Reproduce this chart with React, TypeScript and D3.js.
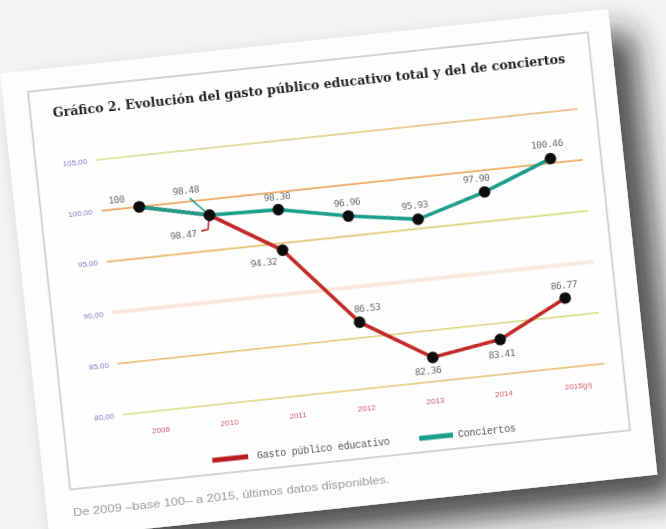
import React from "react";
import * as d3 from "d3";

const years = ["2009", "2010", "2011", "2012", "2013", "2014", "2015(p)"];
const gastoTotal = [100, 98.47, 94.32, 86.53, 82.36, 83.41, 86.77];
const conciertos = [100, 98.48, 98.3, 96.96, 95.93, 97.9, 100.46];
const yTicks = [80, 85, 90, 95, 100, 105];
const seriesNames = ["Gasto público educativo", "Conciertos"];
const title = "Gráfico 2. Evolución del gasto público educativo total y del de conciertos";
const footnote = "De 2009 –base 100– a 2015, últimos datos disponibles.";

// label layout (offsets from the point), kept apart from the data
const redLabelOffsets = [[-22, -10], [-28, 17], [-20, 10], [9, -14], [-6, 13], [0, 14], [0, -13]];
const greenLabelOffsets = [null, [-21, -27], [0, -13], [0, -14], [-2, -14], [-7, -14], [-2, -15]];
const gridColors: [string, string, number, number][] = [
  ["#d6e07e", "#f2b266", 1.6, 1], // 80
  ["#f0b466", "#d4e07c", 1.6, 1], // 85
  ["#f6d2bc", "#f6d8c6", 4, 0.55], // 90
  ["#f0b064", "#d2de7a", 1.6, 1], // 95
  ["#f0a65e", "#f0ac62", 1.8, 1], // 100
  ["#cfe08a", "#f2b06a", 1.6, 1], // 105
];

const RED = "#c22a26";
const TEAL = "#1f9e8c";

export default function App() {
  const W = 666, H = 529;
  const x = d3.scalePoint<string>().domain(years).range([146, 560]);
  const y = d3.scaleLinear().domain([80, 105]).range([392, 136]);
  const line = d3.line<number>().x((_, i) => x(years[i]) as number).y((v) => y(v));
  const fmtAxis = (v: number) => v.toFixed(2).replace(".", ",");
  const fmtLabel = (v: number) => (Number.isInteger(v) ? String(v) : v.toFixed(2));
  const gridX0 = 108, gridX1 = 592;

  return (
    <svg width={W} height={H} style={{ position: "absolute", left: 0, top: 0, background: "#f5f5f5" }}>
      <defs>
        <filter id="shadow" x="-20%" y="-20%" width="150%" height="150%">
          <feDropShadow dx="22" dy="24" stdDeviation="16" floodColor="#222" floodOpacity="0.8" />
        </filter>
        <filter id="soft" x="-5%" y="-5%" width="110%" height="110%">
          <feGaussianBlur stdDeviation="0.45" />
        </filter>
        {gridColors.map((c, i) => (
          <linearGradient key={i} id={`g${i}`} x1={gridX0} x2={gridX1} y1="0" y2="0" gradientUnits="userSpaceOnUse">
            <stop offset="0" stopColor={c[0]} />
            <stop offset="1" stopColor={c[1]} />
          </linearGradient>
        ))}
      </defs>
      <g transform="rotate(-6.05, 329, 261)">
        {/* paper */}
        <rect x={22} y={40} width={611} height={468} fill="#fdfdfd" filter="url(#shadow)" />
        <g filter="url(#soft)">
          {/* frame */}
          <rect x={47.5} y={61} width={563} height={400} fill="#fefefe" stroke="#c9c9c9" strokeWidth={1.6} />
          <text x={70} y={89} fontFamily="DejaVu Serif" fontWeight="bold" fontSize={13.5} fill="#222"
            textLength={515} lengthAdjust="spacingAndGlyphs">{title}</text>
          {/* grid + y axis */}
          {yTicks.map((t, i) => (
            <g key={t}>
              <line x1={gridX0} x2={gridX1} y1={y(t)} y2={y(t)} stroke={`url(#g${i})`}
                strokeWidth={gridColors[i][2]} opacity={gridColors[i][3]} />
              <text x={99} y={y(t) + 3} textAnchor="end" fontFamily="Liberation Sans" fontSize={8} fill="#7c78c0">
                {fmtAxis(t)}
              </text>
            </g>
          ))}
          {/* x axis labels */}
          {years.map((yr) => (
            <text key={yr} x={(x(yr) as number) + (yr.length > 4 ? 4 : -2)} y={414} textAnchor="middle"
              fontFamily="Liberation Sans" fontSize={8} fill="#d4566a">{yr}</text>
          ))}
          {/* series */}
          <path d={line(gastoTotal) || ""} fill="none" stroke={RED} strokeWidth={3.6} strokeLinejoin="round" />
          <path d={line(conciertos) || ""} fill="none" stroke={TEAL} strokeWidth={3.6} strokeLinejoin="round" />
          {/* leaders */}
          {(() => {
            const px = x(years[1]) as number;
            const pr = y(gastoTotal[1]);
            const pg = y(conciertos[1]);
            return (
              <g>
                <path d={`M${px - 18},${pg - 19} L${px - 4},${pg - 4}`} stroke={TEAL} strokeWidth={1.6} fill="none" />
                <path d={`M${px - 10},${pr + 15} L${px - 3},${pr + 14} L${px - 1},${pr + 4}`} stroke={RED}
                  strokeWidth={1.6} fill="none" />
              </g>
            );
          })()}
          {gastoTotal.map((v, i) => (
            <circle key={"r" + i} cx={x(years[i]) as number} cy={y(v)} r={5.8} fill="#111" />
          ))}
          {conciertos.map((v, i) => (
            <circle key={"g" + i} cx={x(years[i]) as number} cy={y(v)} r={5.8} fill="#111" />
          ))}
          {gastoTotal.map((v, i) => {
            const o = redLabelOffsets[i];
            return (
              <text key={"rl" + i} x={(x(years[i]) as number) + o[0]} y={y(v) + o[1] + 3.5} textAnchor="middle"
                fontFamily="DejaVu Sans Mono" fontSize={9.5} fill="#6a6a6a" letterSpacing={-0.4}>{fmtLabel(v)}</text>
            );
          })}
          {conciertos.map((v, i) => {
            const o = greenLabelOffsets[i];
            if (!o) return null;
            return (
              <text key={"gl" + i} x={(x(years[i]) as number) + o[0]} y={y(v) + o[1] + 3.5} textAnchor="middle"
                fontFamily="DejaVu Sans Mono" fontSize={9.5} fill="#6a6a6a" letterSpacing={-0.4}>{fmtLabel(v)}</text>
            );
          })}
          {/* legend */}
          <line x1={192} x2={228} y1={447} y2={447} stroke="#b81e24" strokeWidth={5} />
          <text x={237} y={450} fontFamily="Liberation Mono" fontSize={10} fill="#555" letterSpacing={-0.2}>{seriesNames[0]}</text>
          <line x1={400} x2={434} y1={447} y2={447} stroke={TEAL} strokeWidth={5} />
          <text x={439} y={450} fontFamily="Liberation Mono" fontSize={10} fill="#555" letterSpacing={-0.2}>{seriesNames[1]}</text>
          {/* footnote */}
          <text x={48} y={488} fontFamily="Liberation Sans" fontSize={10.5} fill="#999"
            textLength={318} lengthAdjust="spacingAndGlyphs">{footnote}</text>
        </g>
      </g>
    </svg>
  );
}
